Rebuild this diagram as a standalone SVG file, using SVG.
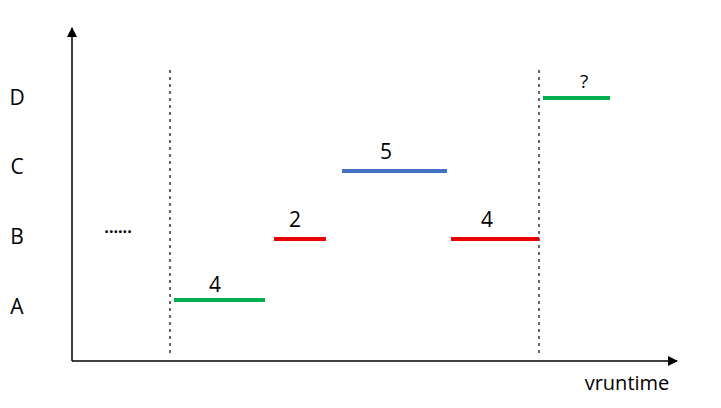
<svg xmlns="http://www.w3.org/2000/svg" width="721" height="408" viewBox="0 0 721 408">
<style>
text{font-family:"Open Sans","Noto Sans","Liberation Sans",sans-serif;font-size:21px;fill:#000}
.ax{stroke:#000;stroke-width:1.5;fill:none}
.dot{stroke:#000;stroke-width:1.2;stroke-dasharray:3 4;fill:none}
.bar{stroke-width:4;fill:none}
.g{stroke:#00B050}.r{stroke:#EE0000}.b{stroke:#4472C4}
</style>
<defs>
<marker id="arr" markerWidth="10" markerHeight="10" refX="9" refY="5" orient="auto" markerUnits="userSpaceOnUse">
<path d="M0,0 L10,5 L0,10 Z" fill="#000"/>
</marker>
</defs>
<g id="axes">
<line class="ax" x1="72" y1="361" x2="72" y2="28" marker-end="url(#arr)"/>
<line class="ax" x1="72" y1="361" x2="677" y2="361" marker-end="url(#arr)"/>
<text x="627" y="390" text-anchor="middle" style="font-size:20px">vruntime</text>
</g>
<g id="labels">
<text x="17" y="105" text-anchor="middle">D</text>
<text x="17" y="174" text-anchor="middle">C</text>
<text x="17" y="244" text-anchor="middle">B</text>
<text x="17" y="314" text-anchor="middle">A</text>
<text x="118" y="233" text-anchor="middle" style="font-size:16px;font-weight:bold">......</text>
</g>
<g id="connectors">
<line class="dot" x1="170" y1="70" x2="170" y2="356"/>
<line class="dot" x1="539" y1="70" x2="539" y2="356"/>
</g>
<g id="barA"><line class="bar g" x1="174" y1="300" x2="265" y2="300"/><text x="215" y="292" text-anchor="middle">4</text></g>
<g id="barB1"><line class="bar r" x1="274" y1="239" x2="326" y2="239"/><text x="295" y="227" text-anchor="middle">2</text></g>
<g id="barC"><line class="bar b" x1="342" y1="171" x2="447" y2="171"/><text x="386" y="159" text-anchor="middle">5</text></g>
<g id="barB2"><line class="bar r" x1="451" y1="239" x2="539" y2="239"/><text x="487" y="227" text-anchor="middle">4</text></g>
<g id="barD"><line class="bar g" x1="543" y1="98" x2="610" y2="98"/><text x="584" y="88" text-anchor="middle" style="font-size:19px">?</text></g>
</svg>
